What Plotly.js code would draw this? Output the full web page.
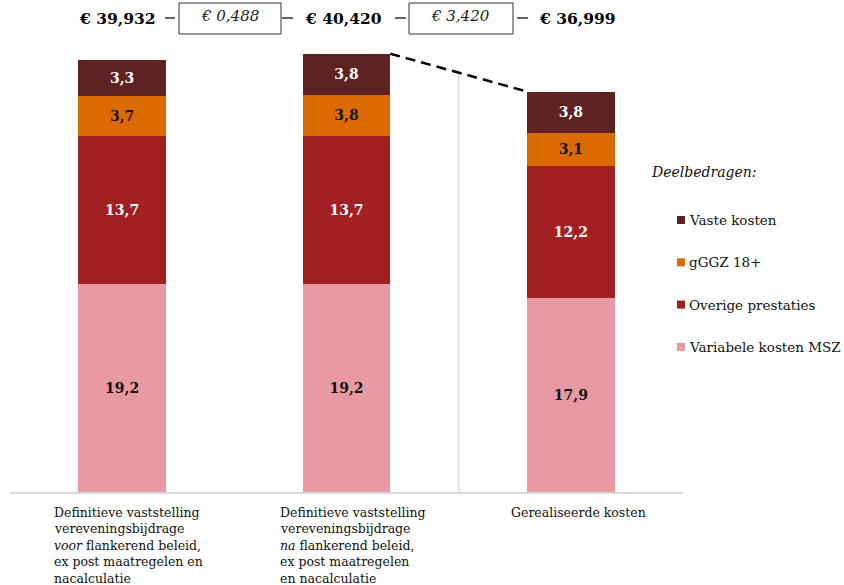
<!DOCTYPE html>
<html><head><meta charset="utf-8">
<script src="https://cdn.plot.ly/plotly-3.0.1.min.js"></script>
<style>html,body{margin:0;padding:0;background:#fff}#chart{width:844px;height:585px}</style>
</head><body><div id="chart"></div>
<script>
const categories = [
  'Definitieve vaststelling<br>vereveningsbijdrage<br><i>voor</i> flankerend beleid,<br>ex post maatregelen en<br>nacalculatie',
  'Definitieve vaststelling<br>vereveningsbijdrage<br><i>na</i> flankerend beleid,<br>ex post maatregelen<br>en nacalculatie',
  'Gerealiseerde kosten'
];
const seriesNames = ['Variabele kosten MSZ', 'Overige prestaties', 'gGGZ 18+', 'Vaste kosten'];
const variabeleKosten = [19.2, 19.2, 17.9];
const overigePrestaties = [13.7, 13.7, 12.2];
const gGGZ = [3.7, 3.8, 3.1];
const vasteKosten = [3.3, 3.8, 3.8];
const totals = ['€ 39,932', '€ 40,420', '€ 36,999'];
const differences = ['€ 0,488', '€ 3,420'];
const legendTitle = 'Deelbedragen:';

const colors = ['#E899A4', '#A21F24', '#DB6A00', '#5F2222'];
const textColors = ['#111', '#fff', '#111', '#fff'];
const seriesValues = [variabeleKosten, overigePrestaties, gGGZ, vasteKosten];
const FONT = 'DejaVu Serif, Georgia, serif';
const BW = 0.39;

const fmt = v => '<b>' + v.toFixed(1).replace('.', ',') + '</b>';

const traces = seriesValues.map((vals, i) => ({
  type: 'bar',
  name: seriesNames[i],
  x: categories,
  y: vals,
  width: BW,
  marker: {color: colors[i], line: {width: 0}},
  text: vals.map(fmt),
  textposition: 'inside',
  insidetextanchor: 'middle',
  textangle: 0,
  constraintext: 'none',
  textfont: {family: FONT, size: 14, color: textColors[i]},
  hoverinfo: 'skip',
  showlegend: false
}));

const stackTotal = idx => seriesValues.reduce((s, arr) => s + arr[idx], 0);

// plot geometry helpers (paper coords from pixel layout)
const L = 10, R = 161, T = 5, B = 93, W = 844, H = 585;
const pw = W - L - R, ph = H - T - B;
const px = p => (p - L) / pw;
const py = p => (H - B - p) / ph;

const headerY = py(18);
const annotations = [];
const shapes = [];
// totals
const totalX = [117, 343, 577];
totals.forEach((t, i) => annotations.push({
  xref: 'paper', yref: 'paper', x: px(totalX[i]), y: headerY, text: '<b>' + t + '</b>',
  showarrow: false, xanchor: 'center', yanchor: 'middle',
  font: {family: FONT, size: 15.5, color: '#000'}
}));
// difference boxes
const boxX = [[179, 281], [409, 513]];
differences.forEach((d, i) => {
  shapes.push({type: 'rect', xref: 'paper', yref: 'paper', x0: px(boxX[i][0]), x1: px(boxX[i][1]),
    y0: py(34), y1: py(3), line: {color: '#333', width: 1}, fillcolor: '#fff'});
  annotations.push({
    xref: 'paper', yref: 'paper', x: px((boxX[i][0] + boxX[i][1]) / 2), y: py(16),
    text: '<i>' + d + '</i>', showarrow: false, xanchor: 'center', yanchor: 'middle',
    font: {family: FONT, size: 15, color: '#222'}
  });
});
// category labels, one annotation per line, left aligned
const catX = [52, 278, 509];
categories.forEach((c, i) => c.split('<br>').forEach((line, j) => annotations.push({
  xref: 'paper', yref: 'paper', x: px(catX[i]), y: py(512 + j * 16.6), text: line,
  showarrow: false, xanchor: 'left', yanchor: 'middle',
  font: {family: FONT, size: 12.5, color: '#111'}
})));
// legend (manual, top to bottom: last series first)
annotations.push({xref: 'paper', yref: 'paper', x: px(649), y: py(172), text: '<i>' + legendTitle + '</i>',
  showarrow: false, xanchor: 'left', yanchor: 'middle', font: {family: FONT, size: 14, color: '#111'}});
seriesNames.slice().reverse().forEach((name, k) => {
  const idx = seriesNames.length - 1 - k;
  const cy = 220 + k * 42.3;
  shapes.push({type: 'rect', xref: 'paper', yref: 'paper', x0: px(677), x1: px(685),
    y0: py(cy + 4), y1: py(cy - 4), fillcolor: colors[idx], line: {width: 0}});
  annotations.push({xref: 'paper', yref: 'paper', x: px(687), y: py(cy), text: name,
    showarrow: false, xanchor: 'left', yanchor: 'middle', font: {family: FONT, size: 13.5, color: '#111'}});
});
// connector lines
[[165, 175], [282, 293], [395, 406], [517, 528]].forEach(s => shapes.push({
  type: 'line', xref: 'paper', yref: 'paper', x0: px(s[0]), x1: px(s[1]), y0: py(18), y1: py(18),
  line: {color: '#000', width: 1.2}
}));
// separator
shapes.push({type: 'line', xref: 'x', yref: 'y', x0: 1.5, x1: 1.5, y0: 0, y1: 39,
  line: {color: '#dddddd', width: 1.5}});
// dashed connector between bar tops
shapes.push({type: 'line', xref: 'x', yref: 'y', x0: 1 + BW / 2, x1: 2 - BW / 2,
  y0: stackTotal(1), y1: stackTotal(2), line: {color: '#000', width: 2.5, dash: '10px,6px'}});

const layout = {
  width: W, height: H,
  margin: {l: L, r: R, t: T, b: B, pad: 0},
  barmode: 'stack',
  paper_bgcolor: '#fff', plot_bgcolor: '#fff',
  showlegend: false,
  xaxis: {type: 'category', range: [-0.5, 2.5], showticklabels: false, ticks: '',
    showline: true, linecolor: '#d9d9d9', linewidth: 2, showgrid: false, zeroline: false, fixedrange: true},
  yaxis: {range: [0, 45], visible: false, showgrid: false, zeroline: false, fixedrange: true},
  annotations: annotations,
  shapes: shapes,
  font: {family: FONT}
};

Plotly.newPlot('chart', traces, layout, {displayModeBar: false, staticPlot: true});
</script>
</body></html>
